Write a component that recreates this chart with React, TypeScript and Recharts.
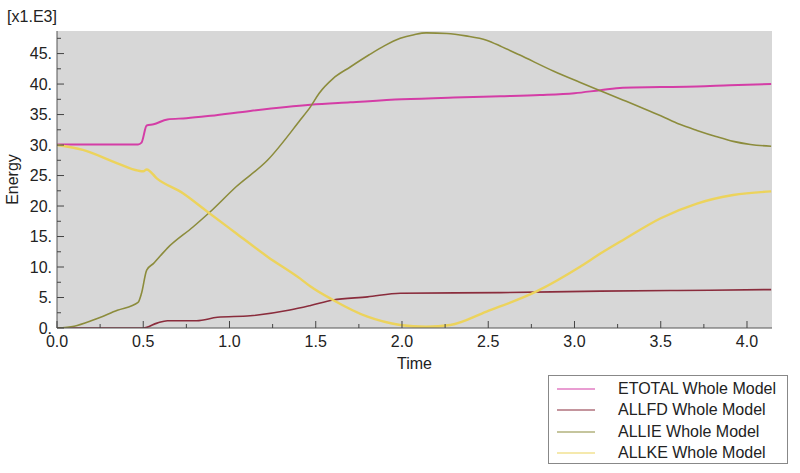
import React from 'react';
import { LineChart, Line, XAxis, YAxis, CartesianGrid, Label } from 'recharts';

// ETOTAL Whole Model
const etotalTime = [0, 0.2, 0.47, 0.49, 0.52, 0.56, 0.64, 0.75, 0.89, 1.12, 1.47, 1.7, 2.0, 2.3, 2.57, 2.8, 3.0, 3.15, 3.28, 3.5, 3.71, 3.9, 4.14];
const etotalEnergy = [30.1, 30.1, 30.1, 30.4, 33.2, 33.4, 34.2, 34.4, 34.8, 35.6, 36.6, 37.0, 37.5, 37.8, 38.0, 38.2, 38.5, 39.0, 39.4, 39.5, 39.6, 39.8, 40.0];

// ALLFD Whole Model
const allfdTime = [0, 0.5, 0.58, 0.64, 0.81, 0.93, 1.12, 1.35, 1.47, 1.6, 1.8, 1.99, 2.57, 3.15, 3.6, 4.14];
const allfdEnergy = [0, 0, 0.8, 1.2, 1.2, 1.75, 2.0, 2.95, 3.7, 4.6, 5.1, 5.7, 5.8, 6.05, 6.15, 6.3];

// ALLIE Whole Model
const allieTime = [0, 0.1, 0.21, 0.35, 0.47, 0.49, 0.52, 0.56, 0.64, 0.79, 0.89, 1.04, 1.22, 1.41, 1.47, 1.52, 1.6, 1.7, 1.81, 1.9, 1.99, 2.07, 2.14, 2.26, 2.37, 2.49, 2.58, 2.68, 2.88, 3.03, 3.15, 3.28, 3.4, 3.5, 3.61, 3.71, 3.82, 3.92, 4.02, 4.14];
const allieEnergy = [0, 0.3, 1.3, 2.9, 4.2, 5.7, 9.5, 10.6, 13.1, 16.6, 19.1, 23.2, 27.5, 34.1, 36.3, 38.5, 40.9, 42.8, 44.8, 46.3, 47.5, 48.1, 48.4, 48.3, 47.9, 47.2, 46.1, 44.8, 42.1, 40.3, 38.9, 37.4, 36.0, 34.8, 33.4, 32.4, 31.4, 30.6, 30.1, 29.8];

// ALLKE Whole Model
const allkeTime = [0, 0.15, 0.35, 0.47, 0.5, 0.52, 0.58, 0.73, 0.87, 1.04, 1.22, 1.41, 1.47, 1.6, 1.8, 1.99, 2.14, 2.28, 2.49, 2.78, 3.03, 3.15, 3.28, 3.5, 3.71, 3.92, 4.14];
const allkeEnergy = [30.0, 29.2, 27.0, 25.8, 25.7, 26.0, 24.5, 22.1, 19.1, 15.5, 11.7, 8.1, 6.8, 4.6, 1.85, 0.5, 0.2, 0.5, 2.7, 6.0, 10.0, 12.2, 14.4, 18.0, 20.4, 21.8, 22.4];

const xTicks = [0, 0.25, 0.5, 0.75, 1, 1.25, 1.5, 1.75, 2, 2.25, 2.5, 2.75, 3, 3.25, 3.5, 3.75, 4];
const yTicks = [0, 2.5, 5, 7.5, 10, 12.5, 15, 17.5, 20, 22.5, 25, 27.5, 30, 32.5, 35, 37.5, 40, 42.5, 45, 47.5];

const FONT = '"Liberation Sans", Arial, Helvetica, sans-serif';
const INK = '#222';
const TICK = '#444';

const toPoints = (ts: number[], es: number[]) => ts.map((t, i) => ({ t, e: es[i] }));

const series = [
  { name: 'ETOTAL Whole Model', color: '#d43da6', width: 2, data: toPoints(etotalTime, etotalEnergy) },
  { name: 'ALLFD Whole Model', color: '#8a2c3c', width: 1.6, data: toPoints(allfdTime, allfdEnergy) },
  { name: 'ALLIE Whole Model', color: '#8c8c3c', width: 1.6, data: toPoints(allieTime, allieEnergy) },
  { name: 'ALLKE Whole Model', color: '#ecd35c', width: 2.4, data: toPoints(allkeTime, allkeEnergy) },
];

const isMajor = (v: number, step: number) => Math.abs(v / step - Math.round(v / step)) < 1e-6;

const BottomTick = (props: any) => {
  const { x, y, payload } = props;
  const major = isMajor(payload.value, 0.5);
  return (
    <g>
      <line x1={x} x2={x} y1={y} y2={y - (major ? 7 : 4)} stroke={TICK} />
      {major && (
        <text x={x} y={y + 19} textAnchor="middle" fontSize={16} fill={INK} fontFamily={FONT}>
          {payload.value.toFixed(1)}
        </text>
      )}
    </g>
  );
};

const TopTick = (props: any) => {
  const { x, y, payload } = props;
  const major = isMajor(payload.value, 0.5);
  return <line x1={x} x2={x} y1={y} y2={y + (major ? 7 : 4)} stroke={TICK} />;
};

const LeftTick = (props: any) => {
  const { x, y, payload } = props;
  const major = isMajor(payload.value, 5);
  return (
    <g>
      <line x1={x} x2={x + (major ? 7 : 4)} y1={y} y2={y} stroke={TICK} />
      {major && (
        <text x={x - 5} y={y + 5.5} textAnchor="end" fontSize={16} fill={INK} fontFamily={FONT}>
          {`${payload.value}.`}
        </text>
      )}
    </g>
  );
};

const RightTick = (props: any) => {
  const { x, y, payload } = props;
  const major = isMajor(payload.value, 5);
  return <line x1={x} x2={x - (major ? 7 : 4)} y1={y} y2={y} stroke={TICK} />;
};

const LegendBox = () => (
  <div
    style={{
      position: 'absolute',
      left: 548,
      top: 375,
      width: 240,
      height: 89,
      border: '1px solid #888',
      background: '#fff',
      boxSizing: 'border-box',
      fontFamily: FONT,
      fontSize: 16,
      color: INK,
    }}
  >
    {series.map((s, i) => (
      <div
        key={s.name}
        style={{ position: 'absolute', left: 0, top: 2 + i * 21.5, height: 21, width: '100%', display: 'flex', alignItems: 'center' }}
      >
        <svg width={40} height={4} style={{ marginLeft: 8, display: 'block' }}>
          <line x1={0} x2={38} y1={2} y2={2} stroke={s.color} strokeWidth={1.2} />
        </svg>
        <span style={{ marginLeft: 21, whiteSpace: 'nowrap' }}>{s.name}</span>
      </div>
    ))}
  </div>
);

const App = () => {
  return (
    <div style={{ position: 'absolute', left: 0, top: 0, width: 800, height: 473, background: '#fff' }}>
      <LineChart width={800} height={473} margin={{ top: 31, right: 28, bottom: 101, left: 7 }}>
        <CartesianGrid xAxisId="b" yAxisId="l" horizontal={false} vertical={false} fill="#d7d7d7" />
        <XAxis
          xAxisId="b"
          dataKey="t"
          type="number"
          orientation="bottom"
          domain={[0, 4.145]}
          allowDataOverflow
          ticks={xTicks}
          interval={0}
          height={44}
          tickSize={0}
          tickMargin={0}
          tickLine={false}
          tick={<BottomTick />}
          axisLine={{ stroke: '#555' }}
        >
          <Label value="Time" position="insideBottom" offset={3} fontSize={16} fill={INK} fontFamily={FONT} />
        </XAxis>
        <XAxis
          xAxisId="top"
          dataKey="t"
          type="number"
          orientation="top"
          domain={[0, 4.145]}
          allowDataOverflow
          ticks={xTicks}
          interval={0}
          height={0}
          tickSize={0}
          tickMargin={0}
          tickLine={false}
          tick={<TopTick />}
          axisLine={{ stroke: '#555' }}
        />
        <YAxis
          yAxisId="l"
          type="number"
          orientation="left"
          domain={[0, 48.7]}
          allowDataOverflow
          ticks={yTicks}
          interval={0}
          width={50}
          tickSize={0}
          tickMargin={0}
          tickLine={false}
          tick={<LeftTick />}
          axisLine={{ stroke: '#555' }}
        >
          <Label
            value="Energy"
            angle={-90}
            position="insideLeft"
            offset={5}
            fontSize={16}
            fill={INK}
            fontFamily={FONT}
            style={{ textAnchor: 'middle' }}
          />
          <Label value="[x1.E3]" position="top" offset={9} fontSize={16} fill={INK} fontFamily={FONT} />
        </YAxis>
        <YAxis
          yAxisId="r"
          type="number"
          orientation="right"
          domain={[0, 48.7]}
          allowDataOverflow
          ticks={yTicks}
          interval={0}
          width={0}
          tickSize={0}
          tickMargin={0}
          tickLine={false}
          tick={<RightTick />}
          axisLine={{ stroke: '#555' }}
        />
        {series.map((s) => (
          <Line
            key={s.name}
            xAxisId="b"
            yAxisId="l"
            data={s.data}
            dataKey="e"
            name={s.name}
            type="monotone"
            stroke={s.color}
            strokeWidth={s.width}
            dot={false}
            activeDot={false}
            isAnimationActive={false}
          />
        ))}
      </LineChart>
      <LegendBox />
    </div>
  );
};

export default App;
